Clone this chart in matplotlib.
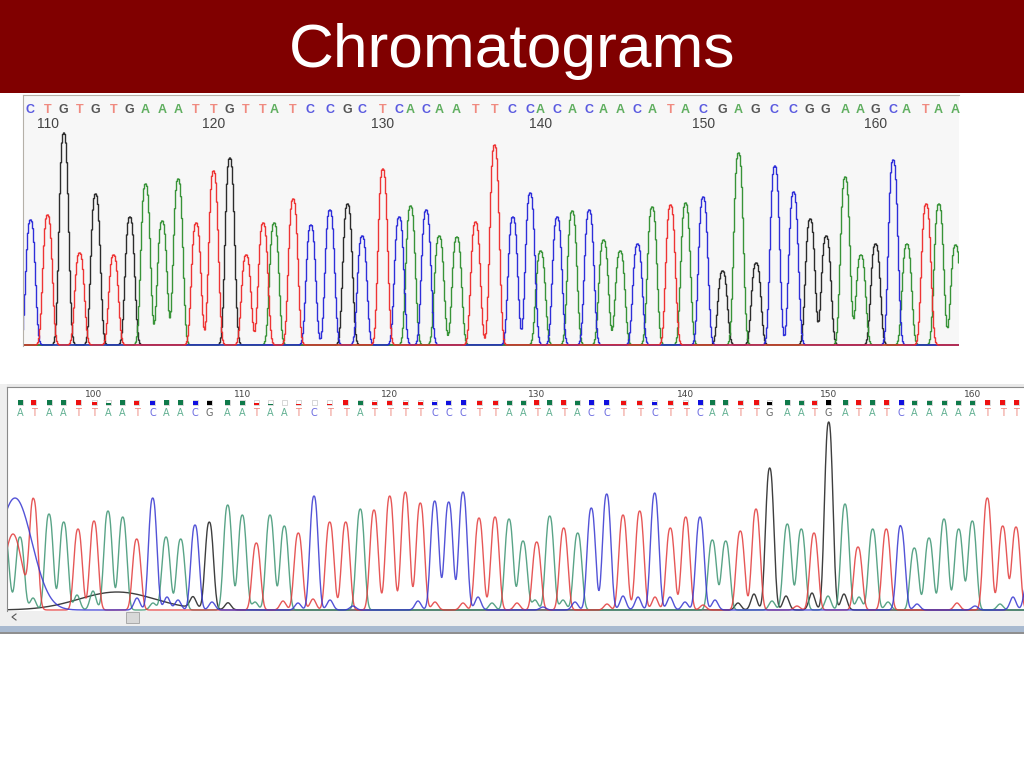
import numpy as np
import matplotlib
matplotlib.use("Agg")
import matplotlib.pyplot as plt
from matplotlib.patches import Rectangle

plt.rcParams['font.family'] = ['Liberation Sans', 'DejaVu Sans']

TITLE = "Chromatograms"

# ---------- upper trace: called bases, peak position (scan) and peak height
top_bases = "CTGTGTGAAATTGTTATCCGCTCACAATTCCACACAACATACGAGCCGGAAGCATAA"
top_pos = [30.7, 47.7, 64, 79.7, 95.7, 113.7, 130, 145.7, 162.3, 178.3, 196.3, 213.7, 230, 246.3, 263.3, 274.3, 293.3, 311, 330,
           347.7, 362.3, 383, 399.3, 410.7, 426.3, 439.3, 457, 475.7, 494.7, 513, 530.3, 540.7, 557.3, 572.3, 589.3, 603.7, 620.3, 637.7, 652.3, 670.7,
           685.7, 703.3, 722.7, 738.7, 756.3, 775, 793.7, 810.3, 826.3, 845.3, 861, 875.7, 893.3, 907, 926.3, 939, 955.7]
top_height = [125, 130, 212, 92, 151, 90, 128, 161, 124, 166, 122, 174, 187, 90, 122, 122, 146, 120, 135,
              141, 109, 176, 128, 139, 135, 109, 108, 123, 200, 128, 152, 94, 128, 134, 135, 105, 94, 101, 138, 140,
              142, 148, 74, 192, 82, 179, 153, 126, 109, 168, 90, 101, 185, 101, 141, 141, 100]
top_first_number = 109
top_ticks = [110, 120, 130, 140, 150, 160]

# ---------- lower trace: called bases, peak position, peak height, quality
low_bases = "ATAATTAATCAACGAATAATCTTATTTTCCCTTAATATACCTTCTTCAATTGAATGATATCAAAAATTTA"
low_pos = [20, 33.7, 49, 63.7, 78, 94, 108, 122.7, 136.7, 152.7, 166, 180.7, 195, 209.3, 227.7, 242.3, 256.3, 270, 284.3, 298.3, 314, 329.7,
           345.7, 360.3, 374, 389.7, 405.3, 420.3, 434.7, 448.7, 463, 479, 495, 509, 523, 536.7, 549.7, 563.7, 577.7, 591.3, 606.7, 623, 639.7, 654.7, 670.3,
           685.7, 700, 712.3, 725.7, 740.3, 756, 769.7, 787.3, 801.3, 814, 828.7, 845, 858, 872.7, 886.3, 901, 914.3, 929, 944, 958.7, 972.3, 987.3, 1002.7, 1016]
low_height = [73, 106, 96, 88, 81, 89, 99, 93, 71, 112, 73, 71, 85, 87, 105, 95, 67, 95, 84, 77, 114, 88,
              88, 101, 100, 114, 118, 107, 109, 108, 118, 92, 93, 91, 69, 68, 94, 82, 77, 102, 116, 95, 99, 117, 82,
              93, 93, 70, 69, 79, 101, 142, 86, 81, 77, 188, 106, 63, 81, 81, 79, 62, 72, 91, 81, 89, 112, 84, 83]
low_quality = [1, 1, 1, 1, 1, .7, .5, 1, .8, .8, 1, 1, .8, .8, 1, .8, .4, .3, 0, .2, .1, .3,
               1, .8, .6, .8, .7, .6, .7, .9, 1, .9, .8, .9, .9, 1, 1, 1, .9, 1, 1, .9, .8, .7, .8,
               .6, 1, 1, 1, .8, 1, .7, 1, .9, .8, 1, 1, 1, 1, 1, 1, .8, .9, .8, .8, .9, 1, 1, 1]
low_first_number = 95
low_ticks = [100, 110, 120, 130, 140, 150, 160]

# small secondary peaks under the lower trace
minor_A_pos = [33, 77, 93, 153, 255, 492, 535, 563, 772, 828, 859, 888, 1000]
minor_A_h = [12, 15, 19, 7, 8, 7, 10, 10, 9, 14, 13, 8, 6]
minor_C_pos = [137, 167, 178, 212, 298, 330, 353, 418, 478, 543, 575, 623, 638, 670, 685, 715, 898, 917, 975, 1013, 1027]
minor_C_h = [12, 13, 10, 8, 7, 10, 4, 9, 13, 3, 8, 14, 13, 13, 8, 10, 8, 6, 4, 13, 28]
minor_G_pos = [193, 228, 738, 754, 786, 812, 844]
minor_G_h = [11, 7, 7, 16, 14, 17, 16]
minor_T_pos = [283, 313, 435, 463, 517, 607, 655, 703, 797, 957]
minor_T_h = [9, 11, 8, 7, 7, 6, 13, 5, 4, 7]

# broad primer-peak humps at the start of the lower trace: base, centre, height, width
hump_bases = ["C", "T", "A", "G"]
hump_pos = [15, 13, 5, 117]
hump_h = [112, 76, 80, 18]
hump_w = [17, 9, 3.7, 38]

top_colors = {"A": "#2f8f2f", "C": "#2424d8", "G": "#222222", "T": "#ee2a2a"}
top_text = {"A": "#5fae5f", "C": "#5a5ae0", "G": "#555555", "T": "#f08a80"}
low_colors = {"A": "#3c9472", "C": "#3535d0", "G": "#1c1c1c", "T": "#e23a3a"}
low_text = {"A": "#62b092", "C": "#6a6ae0", "G": "#666666", "T": "#ee8a80"}
low_box = {"A": "#0f7a4a", "C": "#1010e0", "G": "#000000", "T": "#ee1010"}


def trace(x, base, bases, pos, h, width, power, extra=()):
    y = np.zeros_like(x, dtype=float)
    for b, p, v in zip(bases, pos, h):
        if b == base:
            y += v * np.exp(-0.5 * (np.abs(x - p) / width) ** power)
    for p, v, w in extra:
        y += v * np.exp(-0.5 * ((x - p) / w) ** 2)
    return y


fig = plt.figure(figsize=(10.24, 7.68), dpi=100, facecolor="white")

# slide and window chrome, in pixel units
bg = fig.add_axes([0, 0, 1, 1])
bg.set_xlim(0, 1024)
bg.set_ylim(768, 0)
bg.axis("off")
bg.add_patch(Rectangle((0, 0), 1024, 93, color="#800000", lw=0))
bg.text(512, 52, TITLE, color="white", fontsize=44.8, ha="center", va="center")
bg.add_patch(Rectangle((0, 384), 1024, 3, color="#e9e9e9", lw=0))
bg.add_patch(Rectangle((0, 384), 7, 242, color="#efefef", lw=0))
bg.add_patch(Rectangle((0, 610), 1024, 16, color="#efefef", lw=0))
bg.add_patch(Rectangle((0, 626), 1024, 6, color="#a9bad0", lw=0))
bg.add_patch(Rectangle((0, 632), 1024, 2, color="#8f8f8f", lw=0))
bg.add_patch(Rectangle((126, 612), 13, 11, facecolor="#d8d8d8", edgecolor="#aaaaaa", lw=0.7))
bg.plot([16, 12, 16], [614, 617, 620], color="#555555", lw=0.8)

# ---------- upper panel
ax = fig.add_axes([23 / 1024, 1 - 346 / 768, 936 / 1024, 251 / 768])
ax.set_xlim(23, 959)
ax.set_ylim(-1, 250)
ax.set_facecolor("#f7f7f7")
for s in ["right", "bottom"]:
    ax.spines[s].set_visible(False)
for s in ["top", "left"]:
    ax.spines[s].set_color("#b5b0a8")
    ax.spines[s].set_linewidth(0.8)
ax.set_xticks([])
ax.set_yticks([])
xs = np.arange(23, 960, 1.0)
for b in "GACT":
    ax.plot(xs, trace(xs, b, top_bases, top_pos, top_height, 4.6, 2.8), drawstyle="steps-mid",
            color=top_colors[b], lw=1.0, alpha=0.95)
for b, p in zip(top_bases, top_pos):
    ax.text(p - 0.5, 234.5, b, color=top_text[b], fontsize=9, ha="center", va="center",
            fontweight="bold")
for t in top_ticks:
    ax.text(top_pos[t - top_first_number], 220.5, str(t), color="#444444", fontsize=10,
            ha="center", va="center")

# ---------- lower panel
ax2 = fig.add_axes([7 / 1024, 1 - 610.5 / 768, 1017 / 1024, 223.5 / 768])
ax2.set_xlim(7, 1024)
ax2.set_ylim(-0.5, 223)
ax2.set_facecolor("white")
for s in ["right", "bottom"]:
    ax2.spines[s].set_visible(False)
for s in ["top", "left"]:
    ax2.spines[s].set_color("#8a8a8a")
    ax2.spines[s].set_linewidth(0.8)
ax2.set_xticks([])
ax2.set_yticks([])
xl = np.arange(7, 1025, 0.5)
minors = {"A": (minor_A_pos, minor_A_h), "C": (minor_C_pos, minor_C_h),
          "G": (minor_G_pos, minor_G_h), "T": (minor_T_pos, minor_T_h)}
for b in "GATC":
    extra = [(p, v, 3.0) for p, v in zip(*minors[b])]
    extra += [(p, v, w) for hb, p, v, w in zip(hump_bases, hump_pos, hump_h, hump_w) if hb == b]
    ax2.plot(xl, trace(xl, b, low_bases, low_pos, low_height, 4.1, 2.5, extra),
             color=low_colors[b], lw=1.0, alpha=0.85)
box_w, box_h = 5, 5
for b, p, q in zip(low_bases, low_pos, low_quality):
    ax2.text(p, 197.5, b, color=low_text[b], fontsize=7, ha="center", va="center",
             family="DejaVu Sans")
    ax2.add_patch(Rectangle((p - box_w / 2, 205), box_w, box_h, facecolor="white",
                            edgecolor="#c8c8c8", lw=0.5))
    ax2.add_patch(Rectangle((p - box_w / 2, 205), box_w, box_h * q, facecolor=low_box[b], lw=0))
for t in low_ticks:
    ax2.text(low_pos[t - low_first_number], 215.5, str(t), color="#444444", fontsize=6.5,
             ha="center", va="center", family="DejaVu Sans")

fig.savefig("out.png", dpi=100, facecolor="white")
